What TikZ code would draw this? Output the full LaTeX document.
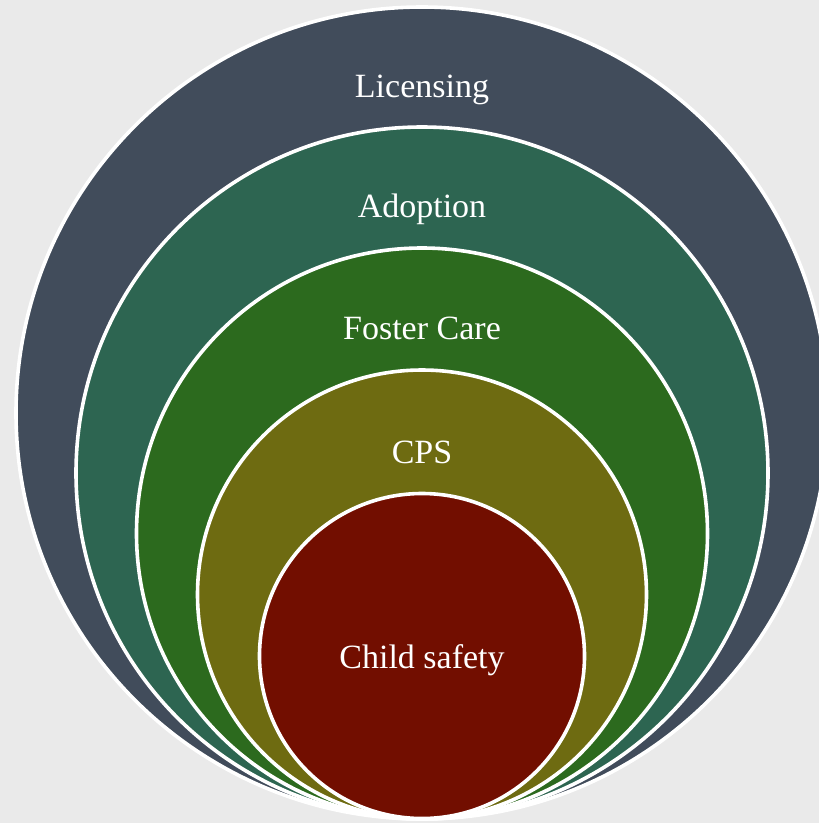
\documentclass[tikz,border=0pt]{standalone}
\usepackage{fontspec}
\setmainfont{Liberation Serif}
\definecolor{bgpaper}{HTML}{EAEAEA}
\definecolor{cLic}{HTML}{414C5B}
\definecolor{cAdo}{HTML}{2D6551}
\definecolor{cFos}{HTML}{2C6A1E}
\definecolor{cCps}{HTML}{6E6B11}
\definecolor{cChi}{HTML}{720E00}
\begin{document}
\begin{tikzpicture}[x=1pt,y=-1pt,
  ring/.style={circle,draw=white,line width=3.6pt,inner sep=0pt,outer sep=0pt},
  lbl/.style={text=white,anchor=base,inner sep=0pt,font=\fontsize{34}{40}\selectfont}]
\useasboundingbox (0,0) rectangle (819,823);
\clip (0,0) rectangle (819,823);
\fill[bgpaper] (0,0) rectangle (819,823);
\node[ring,fill=cLic,minimum size=812pt] (lic) at (422,413) {};
\node[ring,fill=cAdo,minimum size=692pt] (ado) at (422,473) {};
\node[ring,fill=cFos,minimum size=571pt] (fos) at (422,533.5) {};
\node[ring,fill=cCps,minimum size=449pt] (cps) at (422,594.5) {};
\node[ring,fill=cChi,minimum size=325pt] (chi) at (422,656) {};
\node[lbl] (tlic) at (422,97) {Licensing};
\node[lbl] (tado) at (422,217) {Adoption};
\node[lbl] (tfos) at (422,339) {Foster Care};
\node[lbl] (tcps) at (422,463) {CPS};
\node[lbl] (tchi) at (422,668) {Child safety};
\end{tikzpicture}
\end{document}
